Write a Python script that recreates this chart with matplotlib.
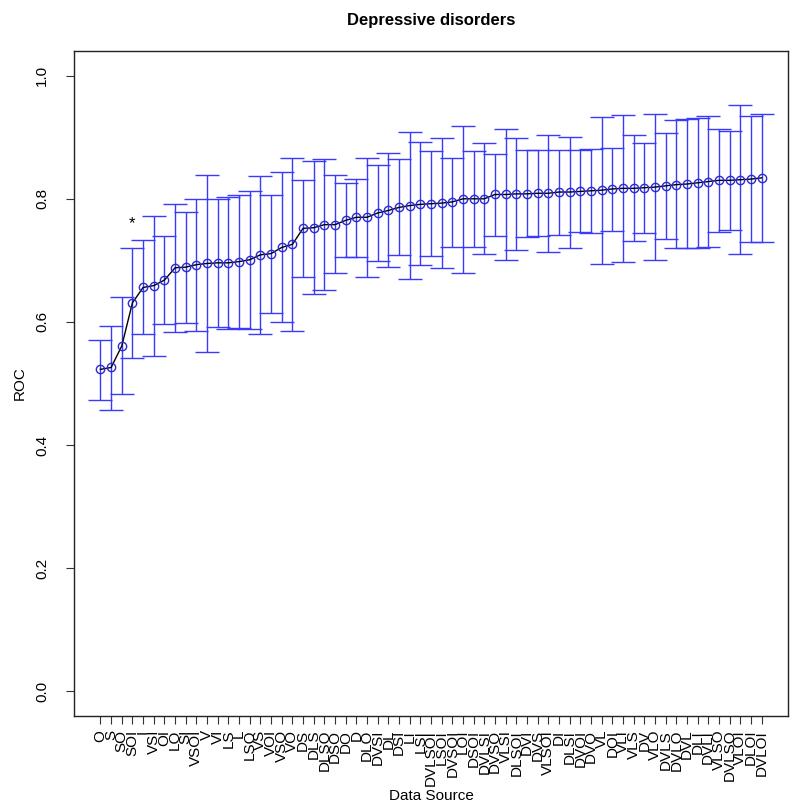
import matplotlib
matplotlib.use("Agg")
from matplotlib import pyplot as plt

plt.rcParams["font.family"] = ["Liberation Sans", "DejaVu Sans"]

# data source combinations, sorted by mean ROC
sources = ["O", "S", "SO", "SOI", "I", "VSI", "OI", "LO", "SI", "VSOI",
           "V", "VI", "LS", "L", "LSO", "VS", "VOI", "VSO", "VO", "DS",
           "DLS", "DLSO", "DSO", "DO", "D", "DLO", "DVSI", "DL", "DSI", "LI",
           "LSI", "DVLSOI", "LSOI", "DVSOI", "LOI", "DSOI", "DVLSI", "DVSO", "VLSI", "DLSOI",
           "DVI", "DVS", "VLSOI", "DI", "DLSI", "DVOI", "DVO", "VL", "DOI", "VLI",
           "VLS", "DV", "VLO", "DVLS", "DVLO", "DVL", "DLI", "DVLI", "VLSO", "DVLSO",
           "VLOI", "DLOI", "DVLOI"]
roc = [0.523, 0.526, 0.561, 0.631, 0.656, 0.659, 0.668, 0.688, 0.689, 0.693,
       0.695, 0.696, 0.696, 0.698, 0.701, 0.709, 0.711, 0.721, 0.726, 0.752,
       0.753, 0.758, 0.758, 0.765, 0.770, 0.770, 0.777, 0.781, 0.786, 0.789,
       0.791, 0.792, 0.793, 0.795, 0.800, 0.800, 0.800, 0.807, 0.807, 0.808,
       0.808, 0.809, 0.809, 0.811, 0.811, 0.812, 0.813, 0.814, 0.816, 0.817,
       0.817, 0.818, 0.819, 0.821, 0.823, 0.824, 0.826, 0.828, 0.830, 0.830,
       0.831, 0.832, 0.834]
lower = [0.474, 0.457, 0.483, 0.542, 0.580, 0.545, 0.597, 0.584, 0.598, 0.586,
         0.551, 0.591, 0.589, 0.590, 0.588, 0.580, 0.615, 0.600, 0.586, 0.673,
         0.645, 0.652, 0.679, 0.705, 0.706, 0.673, 0.699, 0.689, 0.709, 0.669,
         0.692, 0.707, 0.687, 0.721, 0.680, 0.722, 0.710, 0.740, 0.701, 0.717,
         0.738, 0.739, 0.714, 0.741, 0.720, 0.746, 0.744, 0.694, 0.747, 0.698,
         0.731, 0.745, 0.700, 0.735, 0.720, 0.720, 0.720, 0.721, 0.746, 0.750,
         0.711, 0.730, 0.730]
upper = [0.571, 0.593, 0.640, 0.720, 0.733, 0.772, 0.740, 0.792, 0.779, 0.800,
         0.839, 0.800, 0.803, 0.806, 0.813, 0.837, 0.806, 0.844, 0.866, 0.831,
         0.861, 0.864, 0.838, 0.826, 0.832, 0.866, 0.855, 0.875, 0.864, 0.909,
         0.892, 0.877, 0.898, 0.867, 0.919, 0.878, 0.891, 0.873, 0.913, 0.898,
         0.879, 0.879, 0.904, 0.880, 0.901, 0.879, 0.881, 0.933, 0.882, 0.936,
         0.904, 0.891, 0.938, 0.907, 0.928, 0.929, 0.931, 0.934, 0.914, 0.910,
         0.952, 0.934, 0.938]
star_idx = 3
star_y = 0.76

x = list(range(1, len(sources) + 1))
err_lo = [r - l for r, l in zip(roc, lower)]
err_hi = [u - r for r, u in zip(roc, upper)]

fig = plt.figure(figsize=(8, 8.05), dpi=100)
ax = fig.add_axes([0.0925, 0.1106, 0.8925, 0.826])

ax.errorbar(x, roc, yerr=[err_lo, err_hi], fmt="none", ecolor="#3a3aff",
            elinewidth=1, capsize=8.5, capthick=1)
ax.plot(x, roc, color="black", linewidth=1, marker="o", markersize=6,
        markerfacecolor="none", markeredgecolor="#2a2ad0", markeredgewidth=1)
ax.text(x[star_idx], star_y, "*", ha="center", va="center", fontsize=12)

n = len(sources)
pad = 0.04 * (n - 1)
ax.set_xlim(1 - pad, n + pad)
ax.set_ylim(-0.04, 1.04)
ax.set_xticks(x)
ax.set_xticklabels(sources, rotation=90, fontsize=11)
ax.set_yticks([0.0, 0.2, 0.4, 0.6, 0.8, 1.0])
ax.set_yticklabels(["0.0", "0.2", "0.4", "0.6", "0.8", "1.0"], rotation=90,
                   va="center", fontsize=11)
ax.tick_params(axis="x", direction="out", length=6, width=0.8, colors="#333333",
               labelcolor="black", pad=4)
ax.tick_params(axis="y", direction="out", length=6, width=0.8, colors="#333333",
               labelcolor="black", pad=12)
for s in ax.spines.values():
    s.set_linewidth(1)
    s.set_color("#222222")

ax.set_xlabel("Data Source", fontsize=11, labelpad=2)
ax.set_ylabel("ROC", fontsize=11, labelpad=6)
ax.set_title("Depressive disorders", fontsize=12, fontweight="bold", pad=19)

fig.savefig("out.png", dpi=100)
